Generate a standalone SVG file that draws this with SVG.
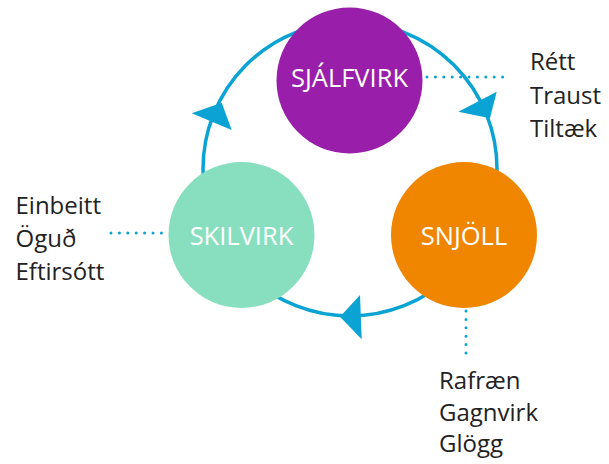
<svg xmlns="http://www.w3.org/2000/svg" width="609" height="464" viewBox="0 0 609 464">
<style>
.ring{fill:none;stroke:#0aa3d4;stroke-width:3.5}
.arrow{fill:#0aa3d4}
.dots{fill:none;stroke:#0aa3d4;stroke-width:3;stroke-linecap:round;stroke-dasharray:0 8.4}
.ct{font-family:"Open Sans","Liberation Sans",sans-serif;font-size:25.5px;fill:#ffffff;text-anchor:middle}
.lt{font-family:"Open Sans","Liberation Sans",sans-serif;font-size:24px;fill:#222222}
</style>
<rect width="609" height="464" fill="#ffffff"/>
<g id="connectors">
<circle class="ring" cx="350" cy="169" r="147"/>
<polygon class="arrow" points="191.7,113.3 221.7,102.7 231.7,130"/>
<polygon class="arrow" points="458.3,111.7 496.7,91.7 490,118.3"/>
<polygon class="arrow" points="360,295 361.7,339.3 340,316.7"/>
<line class="dots" x1="427" y1="77" x2="509" y2="77"/>
<line class="dots" x1="111" y1="233" x2="162" y2="233"/>
<line class="dots" x1="466" y1="311" x2="466" y2="353"/>
</g>
<g id="sjalfvirk">
<circle cx="349.5" cy="80.5" r="73" fill="#991ea9"/>
<text class="ct" x="349.5" y="87">SJÁLFVIRK</text>
</g>
<g id="skilvirk">
<circle cx="241.5" cy="235" r="73" fill="#87dfc0"/>
<text class="ct" x="241.5" y="245">SKILVIRK</text>
</g>
<g id="snjoll">
<circle cx="464" cy="235" r="73" fill="#f08600"/>
<text class="ct" x="464" y="245">SNJÖLL</text>
</g>
<g id="labels-right">
<text class="lt" x="530" y="70">Rétt</text>
<text class="lt" x="530" y="104">Traust</text>
<text class="lt" x="530" y="137">Tiltæk</text>
</g>
<g id="labels-left">
<text class="lt" x="15.5" y="214">Einbeitt</text>
<text class="lt" x="15.5" y="247">Öguð</text>
<text class="lt" x="15.5" y="280">Eftirsótt</text>
</g>
<g id="labels-bottom">
<text class="lt" x="439" y="389">Rafræn</text>
<text class="lt" x="439" y="421">Gagnvirk</text>
<text class="lt" x="439" y="452">Glögg</text>
</g>
</svg>
